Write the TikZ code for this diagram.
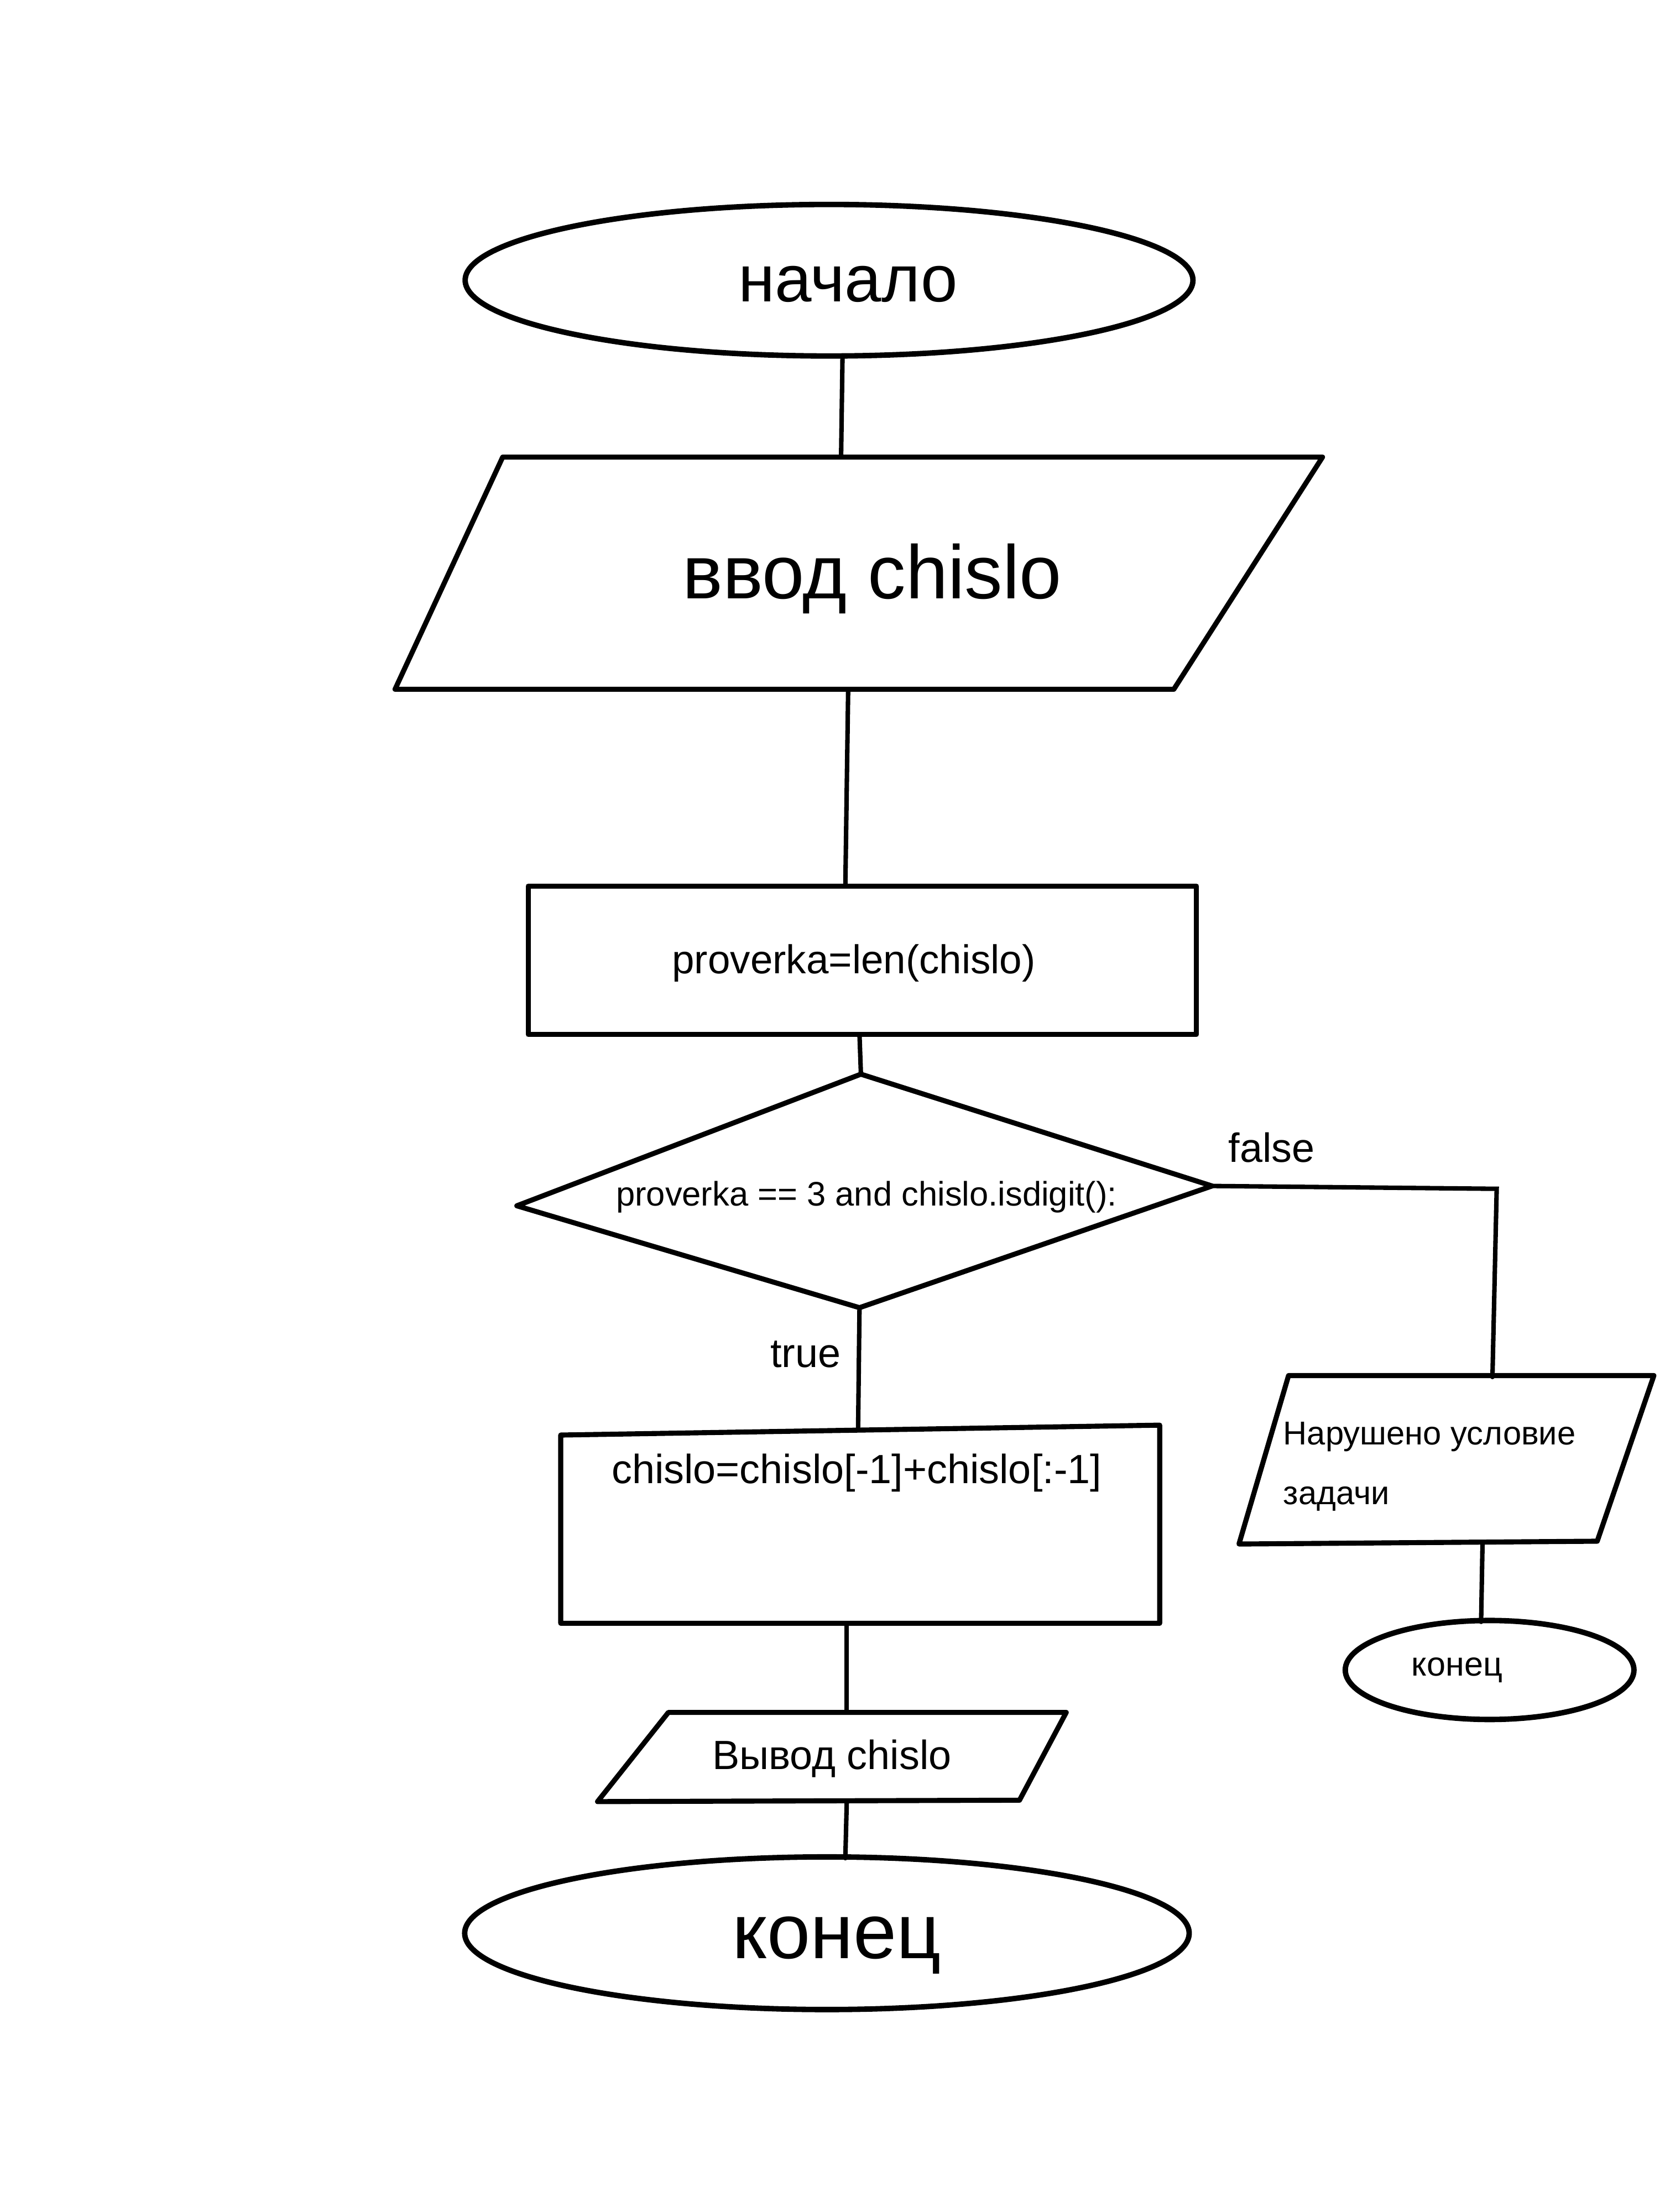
\documentclass[tikz,border=0pt]{standalone}
\usepackage{fontspec}
\setmainfont{Liberation Sans}
\usetikzlibrary{shapes.geometric}
\begin{document}
\begin{tikzpicture}[x=0.025597cm,y=-0.025592cm,
  blockline/.style={line width=2.6pt, line join=round, line cap=round},
  conn/.style={line width=2.3pt, line cap=round},
  lbl/.style={inner sep=0pt, anchor=base},
  lblw/.style={inner sep=0pt, anchor=base west},
  oval/.style={ellipse, draw, line width=2.8pt, inner sep=0pt, outer sep=0pt}]
\fill[white] (0,0) rectangle (1172,1563);
\useasboundingbox (0,0) rectangle (1172,1563);

% start
\node[oval, minimum width=13.16cm, minimum height=2.74cm] (start) at (585.5,198) {};
\node[lbl, font=\fontsize{34}{40}\selectfont] (tstart) at (599,213) {начало};

% input
\coordinate (pa) at (355,323);
\coordinate (pb) at (934,323);
\coordinate (pc) at (829,487);
\coordinate (pd) at (279,487);
\draw[blockline] (pa) -- (pb) -- (pc) -- (pd) -- cycle;
\node[lbl, font=\fontsize{39}{45}\selectfont] (tin) at (616,423) {ввод chislo};

\coordinate (c1a) at (595,252);
\coordinate (c1b) at (594,323);
\draw[conn] (c1a) -- (c1b);
\coordinate (c2a) at (599,487);
\coordinate (c2b) at (597,626);
\draw[conn] (c2a) -- (c2b);

% process 1
\coordinate (ra) at (373,626);
\coordinate (rc) at (845,731);
\draw[blockline] (ra) rectangle (rc);
\node[lbl, font=\fontsize{20.7}{24}\selectfont] (tproc) at (603,688) {proverka=len(chislo)};

\coordinate (c3a) at (607,731);
\coordinate (c3b) at (608,759);
\draw[conn] (c3a) -- (c3b);

% decision
\coordinate (dt) at (608,759);
\coordinate (dr) at (856,838);
\coordinate (db) at (607,924);
\coordinate (dl) at (365,852);
\draw[blockline] (dt) -- (dr) -- (db) -- (dl) -- cycle;
\node[lbl, font=\fontsize{17.5}{21}\selectfont] (tdec) at (612,852) {proverka == 3 and chislo.isdigit():};

% false branch
\node[lbl, font=\fontsize{21}{25}\selectfont] (tfalse) at (898,821) {false};
\coordinate (fk) at (1057,840);
\coordinate (fe) at (1054,973);
\draw[conn] (dr) -- (fk) -- (fe);

\coordinate (na) at (910,972);
\coordinate (nb) at (1168,972);
\coordinate (nc) at (1128,1089);
\coordinate (nd) at (875,1091);
\draw[blockline] (na) -- (nb) -- (nc) -- (nd) -- cycle;
\node[lblw, font=\fontsize{17}{20}\selectfont] (terr1) at (906,1021) {Нарушено условие};
\node[lblw, font=\fontsize{17}{20}\selectfont] (terr2) at (906,1063) {задачи};

\coordinate (c4a) at (1047,1090);
\coordinate (c4b) at (1046,1146);
\draw[conn] (c4a) -- (c4b);
\node[oval, minimum width=5.22cm, minimum height=1.79cm] (end2) at (1052,1180) {};
\node[lbl, font=\fontsize{17.4}{20}\selectfont] (tend2) at (1029,1184) {конец};

% true branch
\coordinate (c5b) at (606,1010);
\draw[conn] (db) -- (c5b);
\node[lbl, font=\fontsize{21}{25}\selectfont] (ttrue) at (569,966) {true};

\coordinate (sa) at (396,1014);
\coordinate (sb) at (819,1007);
\coordinate (sc) at (819,1147);
\coordinate (sd) at (396,1147);
\draw[blockline] (sa) -- (sb) -- (sc) -- (sd) -- cycle;
\node[lbl, font=\fontsize{21}{25}\selectfont] (tswap) at (605,1048) {chislo=chislo[-1]+chislo[:-1]};

\coordinate (c6a) at (598,1147);
\coordinate (c6b) at (598,1210);
\draw[conn] (c6a) -- (c6b);

\coordinate (oa) at (472,1210);
\coordinate (ob) at (753,1210);
\coordinate (oc) at (720,1272);
\coordinate (od) at (422,1273);
\draw[blockline] (oa) -- (ob) -- (oc) -- (od) -- cycle;
\node[lbl, font=\fontsize{21}{25}\selectfont] (tout) at (587.5,1250) {Вывод chislo};

\coordinate (c7a) at (598,1273);
\coordinate (c7b) at (597,1313);
\draw[conn] (c7a) -- (c7b);

\node[oval, minimum width=13.1cm, minimum height=2.76cm] (end1) at (584,1366) {};
\node[lbl, font=\fontsize{40}{46}\selectfont] (tend1) at (591,1384) {конец};
\end{tikzpicture}
\end{document}
